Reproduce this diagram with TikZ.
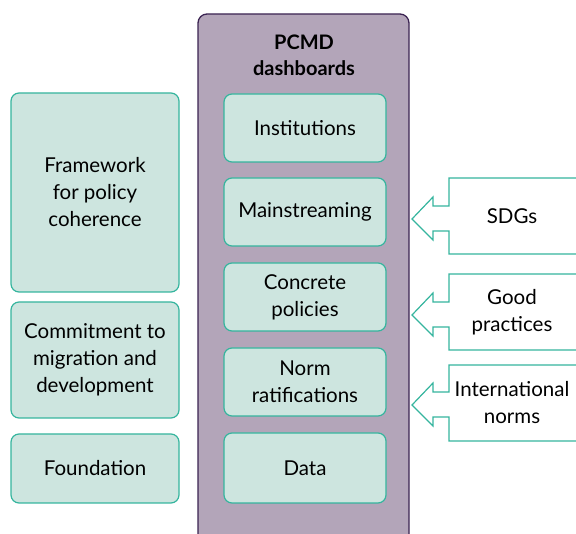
\documentclass[tikz,border=0pt]{standalone}
\usepackage{fontspec}
\setmainfont{Lato}
\definecolor{tealline}{HTML}{35B59E}
\definecolor{tealfill}{HTML}{CDE5DF}
\definecolor{plumfill}{HTML}{B3A5B9}
\definecolor{plumline}{HTML}{3B2352}
\begin{document}
\begin{tikzpicture}[x=1pt,y=-1pt,
    box/.style={draw=tealline, fill=tealfill, line width=1.2pt, rounded corners=8pt,
      align=center, inner sep=0pt, font=\fontsize{20.5}{27}\selectfont},
    pillar/.style={box, minimum width=162pt, minimum height=68pt},
    side/.style={box, minimum width=168pt},
    callout/.style={draw=tealline, fill=white, line width=1.2pt},
    lbl/.style={align=center, font=\fontsize{20.5}{27}\selectfont}]
  \useasboundingbox (0,0) rectangle (576,534);
  % dashboard column
  \draw[fill=plumfill, draw=plumline, line width=1.3pt, rounded corners=9pt]
    (198,14) rectangle (409,560);
  \node (title) at (304,55) [lbl, font=\bfseries\fontsize{20}{26}\selectfont] {PCMD\\dashboards};
  \node (inst) at (305,128) [pillar] {Institutions};
  \node (main) at (305,212) [pillar] {Mainstreaming};
  \node (conc) at (305,297) [pillar] {Concrete\\policies};
  \node (norm) at (305,382) [pillar] {Norm\\ratifications};
  \node (data) at (305,468) [pillar, minimum height=70pt] {Data};
  % left stack
  \node (frame) at (95,192.5) [side, minimum height=199pt] {Framework\\for policy\\coherence};
  \node (commit) at (95,360) [side, minimum height=116pt] {Commitment to\\migration and\\development};
  \node (found) at (95,468.5) [side, minimum height=69pt] {Foundation};
  % inputs
  \foreach \t/\h/\n/\txt in {178/219/sdgs/SDGs, 274/315/good/Good\\practices, 365/405/intl/International\\norms}{
    \draw[callout] (449,\t) -- (580,\t) -- (580,\t+76) -- (449,\t+76) -- (449,\h+12)
      -- (433,\h+12) -- (433,\h+21) -- (412,\h) -- (433,\h-22) -- (433,\h-13)
      -- (449,\h-13) -- cycle;
    \node (\n) at (512,\t+38) [lbl] {\txt};
  }
\end{tikzpicture}
\end{document}
